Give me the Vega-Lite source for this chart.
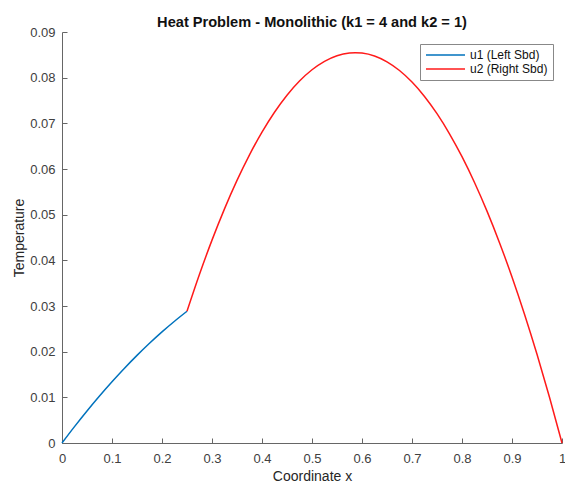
{
  "$schema": "https://vega.github.io/schema/vega-lite/v6.json",
  "width": 500,
  "height": 411,
  "autosize": {"type": "none"},
  "padding": {"left": 62, "top": 32, "right": 3, "bottom": 40},
  "background": "white",
  "config": {
    "view": {"stroke": null},
    "font": "Liberation Sans",
    "axis": {
      "grid": false,
      "domainColor": "#666666",
      "tickColor": "#666666",
      "tickSize": -5,
      "labelFlush": false,
      "labelColor": "#404040",
      "labelFontSize": 13,
      "labelFont": "Liberation Sans",
      "titleFont": "Liberation Sans",
      "titleFontWeight": "normal",
      "titleFontSize": 14,
      "titleColor": "#262626"
    }
  },
  "title": {
    "text": "Heat Problem - Monolithic (k1 = 4 and k2 = 1)",
    "font": "Liberation Sans",
    "fontSize": 14.6,
    "fontWeight": "bold",
    "color": "#111111",
    "anchor": "middle",
    "offset": -4
  },
  "data": {
    "values": [
      {"x": 0, "u": 0, "s": "u1 (Left Sbd)"},
      {"x": 0.025, "u": 0.003588, "s": "u1 (Left Sbd)"},
      {"x": 0.05, "u": 0.007019, "s": "u1 (Left Sbd)"},
      {"x": 0.075, "u": 0.010295, "s": "u1 (Left Sbd)"},
      {"x": 0.1, "u": 0.013413, "s": "u1 (Left Sbd)"},
      {"x": 0.125, "u": 0.016376, "s": "u1 (Left Sbd)"},
      {"x": 0.15, "u": 0.019183, "s": "u1 (Left Sbd)"},
      {"x": 0.175, "u": 0.021833, "s": "u1 (Left Sbd)"},
      {"x": 0.2, "u": 0.024327, "s": "u1 (Left Sbd)"},
      {"x": 0.225, "u": 0.026665, "s": "u1 (Left Sbd)"},
      {"x": 0.25, "u": 0.028846, "s": "u1 (Left Sbd)"},
      {"x": 0.25, "u": 0.028846, "s": "u2 (Right Sbd)"},
      {"x": 0.275, "u": 0.036947, "s": "u2 (Right Sbd)"},
      {"x": 0.3, "u": 0.044423, "s": "u2 (Right Sbd)"},
      {"x": 0.325, "u": 0.051274, "s": "u2 (Right Sbd)"},
      {"x": 0.35, "u": 0.0575, "s": "u2 (Right Sbd)"},
      {"x": 0.375, "u": 0.063101, "s": "u2 (Right Sbd)"},
      {"x": 0.4, "u": 0.068077, "s": "u2 (Right Sbd)"},
      {"x": 0.425, "u": 0.072428, "s": "u2 (Right Sbd)"},
      {"x": 0.45, "u": 0.076154, "s": "u2 (Right Sbd)"},
      {"x": 0.475, "u": 0.079255, "s": "u2 (Right Sbd)"},
      {"x": 0.5, "u": 0.081731, "s": "u2 (Right Sbd)"},
      {"x": 0.525, "u": 0.083582, "s": "u2 (Right Sbd)"},
      {"x": 0.55, "u": 0.084808, "s": "u2 (Right Sbd)"},
      {"x": 0.575, "u": 0.085409, "s": "u2 (Right Sbd)"},
      {"x": 0.5865, "u": 0.085481, "s": "u2 (Right Sbd)"},
      {"x": 0.6, "u": 0.085385, "s": "u2 (Right Sbd)"},
      {"x": 0.625, "u": 0.084736, "s": "u2 (Right Sbd)"},
      {"x": 0.65, "u": 0.083462, "s": "u2 (Right Sbd)"},
      {"x": 0.675, "u": 0.081562, "s": "u2 (Right Sbd)"},
      {"x": 0.7, "u": 0.079038, "s": "u2 (Right Sbd)"},
      {"x": 0.725, "u": 0.075889, "s": "u2 (Right Sbd)"},
      {"x": 0.75, "u": 0.072115, "s": "u2 (Right Sbd)"},
      {"x": 0.775, "u": 0.067716, "s": "u2 (Right Sbd)"},
      {"x": 0.8, "u": 0.062692, "s": "u2 (Right Sbd)"},
      {"x": 0.825, "u": 0.057043, "s": "u2 (Right Sbd)"},
      {"x": 0.85, "u": 0.050769, "s": "u2 (Right Sbd)"},
      {"x": 0.875, "u": 0.04387, "s": "u2 (Right Sbd)"},
      {"x": 0.9, "u": 0.036346, "s": "u2 (Right Sbd)"},
      {"x": 0.925, "u": 0.028197, "s": "u2 (Right Sbd)"},
      {"x": 0.95, "u": 0.019423, "s": "u2 (Right Sbd)"},
      {"x": 0.975, "u": 0.010024, "s": "u2 (Right Sbd)"},
      {"x": 1, "u": 0, "s": "u2 (Right Sbd)"}
    ]
  },
  "mark": {"type": "line", "strokeWidth": 1.5, "interpolate": "monotone"},
  "encoding": {
    "x": {
      "field": "x",
      "type": "quantitative",
      "scale": {"domain": [0, 1], "nice": false},
      "axis": {
        "title": "Coordinate x",
        "values": [0, 0.1, 0.2, 0.3, 0.4, 0.5, 0.6, 0.7, 0.8, 0.9, 1],
        "format": "~g",
        "labelPadding": 14.5,
        "titlePadding": 3.5
      }
    },
    "y": {
      "field": "u",
      "type": "quantitative",
      "scale": {"domain": [0, 0.09], "nice": false},
      "axis": {
        "title": "Temperature",
        "values": [0, 0.01, 0.02, 0.03, 0.04, 0.05, 0.06, 0.07, 0.08, 0.09],
        "format": "~g",
        "labelPadding": 12,
        "titlePadding": 3
      }
    },
    "color": {
      "field": "s",
      "type": "nominal",
      "scale": {"domain": ["u1 (Left Sbd)", "u2 (Right Sbd)"], "range": ["#0072BD", "#FF1A1A"]},
      "legend": {
        "title": null,
        "orient": "none",
        "legendX": 358,
        "legendY": 12,
        "symbolType": "M-1,0H6.8",
        "symbolSize": 100,
        "symbolStrokeWidth": 1.5,
        "labelFontSize": 12,
        "labelColor": "#111111",
        "labelFont": "Liberation Sans",
        "labelOffset": 33,
        "strokeColor": "#888888",
        "fillColor": "white",
        "padding": 5,
        "rowPadding": 2
      }
    }
  }
}
